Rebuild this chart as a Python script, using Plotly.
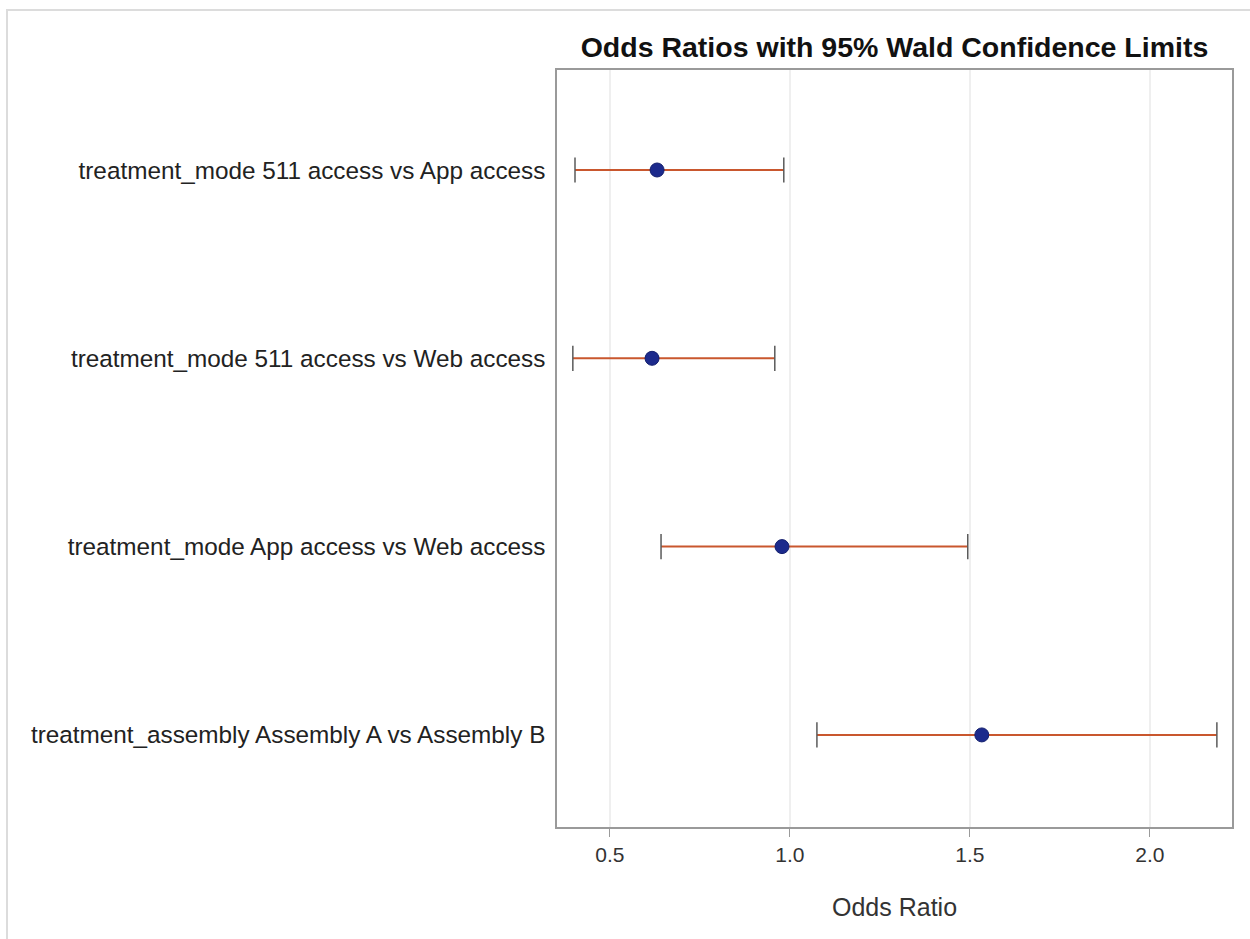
import plotly.graph_objects as go

# Odds ratio estimates with 95% Wald confidence limits
effects = [
    "treatment_mode 511 access vs App access",
    "treatment_mode 511 access vs Web access",
    "treatment_mode App access vs Web access",
    "treatment_assembly Assembly A vs Assembly B",
]
odds_ratio = [0.631, 0.617, 0.978, 1.533]
lower_cl = [0.403, 0.397, 0.642, 1.075]
upper_cl = [0.983, 0.958, 1.494, 2.186]

x_ticks = [0.5, 1.0, 1.5, 2.0]
x_tick_text = ["0.5", "1.0", "1.5", "2.0"]

rows = list(range(len(effects)))

# confidence interval segments
seg_x, seg_y = [], []
for r, lo, hi in zip(rows, lower_cl, upper_cl):
    seg_x += [lo, hi, None]
    seg_y += [r, r, None]

cap_x = lower_cl + upper_cl
cap_y = rows + rows

fig = go.Figure()
fig.add_trace(go.Scatter(
    x=seg_x, y=seg_y, mode="lines",
    line=dict(color="#C9572E", width=2),
    hoverinfo="skip", showlegend=False,
))
fig.add_trace(go.Scatter(
    x=cap_x, y=cap_y, mode="markers",
    marker=dict(symbol="line-ns", size=18, line=dict(color="#5A5A5A", width=1.5)),
    hoverinfo="skip", showlegend=False,
))
fig.add_trace(go.Scatter(
    x=odds_ratio, y=rows, mode="markers",
    marker=dict(symbol="circle", size=14, color="#1C2A8C",
                line=dict(color="#14206E", width=1)),
    showlegend=False,
))

# reference line at odds ratio = 1
fig.add_shape(type="line", xref="x", yref="paper", x0=1.0, x1=1.0, y0=0, y1=1,
              line=dict(color="#9A9A9A", width=1.5), layer="below")

# outer frame of the graphic
fig.add_shape(type="rect", xref="paper", yref="paper",
              x0=-550 / 675, x1=1.5, y0=-2, y1=1 + 60 / 757,
              line=dict(color="#DCDCDC", width=2), layer="below")

fig.update_layout(
    width=1250, height=939,
    margin=dict(l=557, r=18, t=70, b=112),
    paper_bgcolor="white", plot_bgcolor="white",
    font=dict(family="Arial, Liberation Sans, sans-serif", color="#222222"),
    title=dict(
        text="<b>Odds Ratios with 95% Wald Confidence Limits</b>",
        font=dict(size=28.5, color="#111111"),
        x=0.5, xref="paper", xanchor="center",
        y=1 - 47 / 939, yref="container", yanchor="middle",
    ),
    xaxis=dict(
        range=[0.353, 2.228],
        tickmode="array", tickvals=x_ticks, ticktext=x_tick_text,
        ticks="outside", ticklen=8, tickcolor="#9A9A9A", tickwidth=1,
        tickfont=dict(size=21, color="#333333"),
        showgrid=True, gridcolor="#EFEFEF", gridwidth=1.5,
        zeroline=False,
        showline=True, linecolor="#9A9A9A", linewidth=1.5, mirror=True,
        title=dict(text="Odds Ratio", font=dict(size=25, color="#333333"), standoff=34),
    ),
    yaxis=dict(
        range=[3.489, -0.531],
        tickmode="array", tickvals=rows, ticktext=effects,
        ticks="outside", ticklen=0, ticklabelstandoff=5,
        tickfont=dict(size=24.3, color="#222222"),
        showgrid=False, zeroline=False,
        showline=True, linecolor="#9A9A9A", linewidth=1.5, mirror=True,
    ),
)

fig.write_html("out.html")
